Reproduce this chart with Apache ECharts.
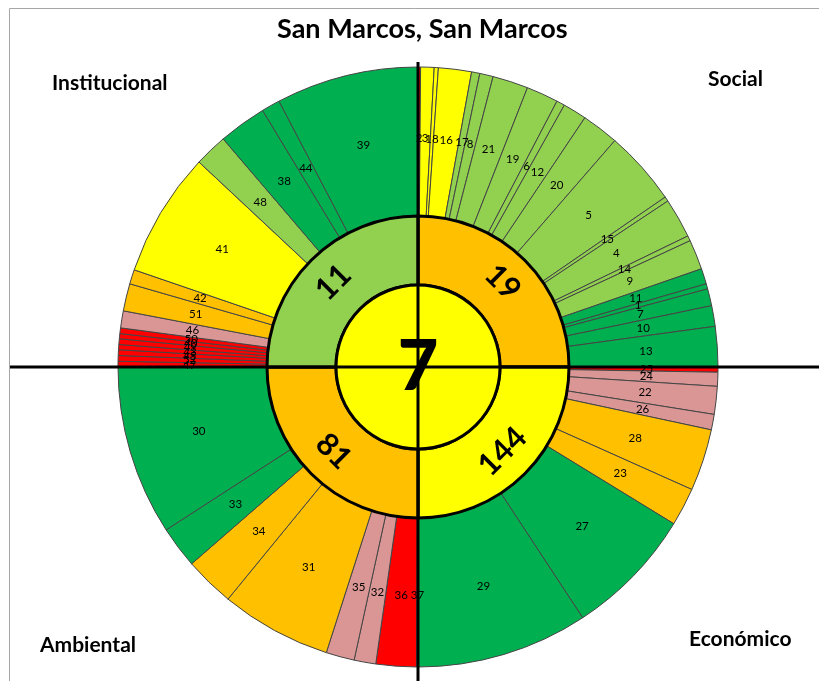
<!DOCTYPE html>
<html><head><meta charset="utf-8">
<script src="https://cdn.jsdelivr.net/npm/echarts@6/dist/echarts.min.js"></script>
<style>html,body{margin:0;padding:0;background:#fff}#c{width:819px;height:681px}</style>
</head><body><div id="c"></div>
<script>
// ---------- data ----------
const chartTitle = 'San Marcos, San Marcos';
const centerScore = 7;
const centerLevel = 3;
const dimensions = ['Social', 'Económico', 'Ambiental', 'Institucional'];
const dimensionScores = [19, 144, 81, 11];
const dimensionLevels = [2, 3, 2, 4];

// outer ring: indicator ids, slice sizes (degrees within each 90° quadrant), status level
const socialIds = [2, 3, 18, 16, 17, 8, 21, 19, 6, 12, 20, 5, 15, 4, 14, 9, 11, 1, 7, 10, 13];
const socialSizes = [0.5, 2.6, 0.8, 6.4, 1.6, 2.6, 6.9, 6.2, 1.6, 4.6, 7.2, 14.5, 0.9, 7.7, 1.0, 5.8, 3.0, 1.0, 3.3, 4.0, 7.8];
const socialLevels = [0, 3, 3, 3, 4, 4, 4, 4, 4, 4, 4, 4, 4, 4, 4, 4, 5, 5, 5, 5, 5];

const economicIds = [25, 24, 22, 26, 28, 23, 27, 29];
const economicSizes = [1.0, 2.7, 5.4, 3.0, 12.0, 7.4, 25.2, 33.3];
const economicLevels = [0, 1, 1, 1, 2, 2, 5, 5];

const environmentalIds = [37, 36, 32, 35, 31, 34, 33, 30];
const environmentalSizes = [0.3, 7.8, 4.2, 5.5, 21.5, 9.7, 8.1, 32.9];
const environmentalLevels = [0, 0, 1, 1, 2, 2, 5, 5];

const institutionalIds = [47, 52, 45, 43, 49, 40, 50, 46, 51, 42, 41, 48, 38, 44, 39];
const institutionalSizes = [1.1, 1.1, 1.1, 1.0, 1.1, 1.0, 1.1, 3.3, 5.3, 2.8, 24.2, 6.4, 9.3, 3.6, 27.6];
const institutionalLevels = [0, 0, 0, 0, 0, 0, 0, 1, 2, 2, 3, 4, 5, 5, 5];

// ---------- styles ----------
const levelColors = ['#FF0000', '#DA9694', '#FFC000', '#FFFF00', '#92D050', '#00B050'];
const dimLabelRotate = [-45, 45, -45, 45];
const FONT = 'Lato, "Open Sans", sans-serif';

function ring(ids, sizes, levels) {
  return ids.map((id, i) => ({
    name: String(id), value: sizes[i],
    itemStyle: { color: levelColors[levels[i]] }
  }));
}
const outerData = [].concat(
  ring(socialIds, socialSizes, socialLevels),
  ring(economicIds, economicSizes, economicLevels),
  ring(environmentalIds, environmentalSizes, environmentalLevels),
  ring(institutionalIds, institutionalSizes, institutionalLevels)
);
const innerData = dimensions.map((d, i) => ({
  name: d, value: 1, score: dimensionScores[i],
  itemStyle: { color: levelColors[dimensionLevels[i]] },
  label: { rotate: dimLabelRotate[i] }
}));

const chart = echarts.init(document.getElementById('c'), null, { renderer: 'canvas' });
const CX = 418, CY = 367;
chart.setOption({
  animation: false,
  backgroundColor: '#fff',
  title: {
    text: chartTitle, left: 272, top: 11,
    textStyle: { fontFamily: FONT, fontWeight: 'bold', fontSize: 27, color: '#000' }
  },
  series: [
    {
      type: 'pie', center: [CX, CY], radius: [151, 300], startAngle: 90, clockwise: true,
      silent: true, z: 1, avoidLabelOverlap: false, minShowLabelAngle: 0,
      labelLayout: { hideOverlap: false },
      itemStyle: { borderColor: '#454545', borderWidth: 1 },
      label: { show: true, position: 'inside', formatter: '{b}', fontFamily: FONT, fontSize: 11.5, color: '#000', overflow: 'none' },
      labelLine: { show: false },
      emphasis: { disabled: true },
      data: outerData
    },
    {
      type: 'pie', center: [CX, CY], radius: [82, 151], startAngle: 90, clockwise: true,
      silent: true, z: 2, avoidLabelOverlap: false,
      itemStyle: { borderColor: '#000', borderWidth: 3 },
      label: {
        show: true, position: 'inside', fontFamily: FONT, fontSize: 31, fontWeight: 'bold', color: '#000',
        formatter: p => String(p.data.score)
      },
      labelLine: { show: false },
      emphasis: { disabled: true },
      data: innerData
    },
    {
      type: 'pie', center: [CX, CY], radius: [0, 82], startAngle: 90,
      silent: true, z: 3,
      itemStyle: { borderColor: '#000', borderWidth: 3, color: levelColors[centerLevel] },
      label: { show: true, position: 'center', formatter: String(centerScore), fontFamily: FONT, fontSize: 70, fontWeight: 900, color: '#000' },
      labelLine: { show: false },
      emphasis: { disabled: true },
      data: [{ name: 'Total', value: 1 }]
    }
  ],
  graphic: [
    { type: 'rect', z: 0, shape: { x: 9.5, y: 8.5, width: 830, height: 700 }, style: { fill: null, stroke: '#a6a6a6', lineWidth: 1 } },
    { type: 'line', z: 100, shape: { x1: 10, y1: CY, x2: 819, y2: CY }, style: { stroke: '#000', lineWidth: 3 } },
    { type: 'line', z: 100, shape: { x1: CX, y1: 62, x2: CX, y2: 681 }, style: { stroke: '#000', lineWidth: 3 } },
    { type: 'text', z: 100, left: 52, top: 73, style: { text: 'Institucional', font: 'bold 21px ' + FONT, fill: '#000' } },
    { type: 'text', z: 100, left: 708, top: 69, style: { text: 'Social', font: 'bold 21px ' + FONT, fill: '#000' } },
    { type: 'text', z: 100, left: 40, top: 635, style: { text: 'Ambiental', font: 'bold 21px ' + FONT, fill: '#000' } },
    { type: 'text', z: 100, left: 689, top: 629, style: { text: 'Económico', font: 'bold 21px ' + FONT, fill: '#000' } }
  ]
});
</script>
</body></html>
